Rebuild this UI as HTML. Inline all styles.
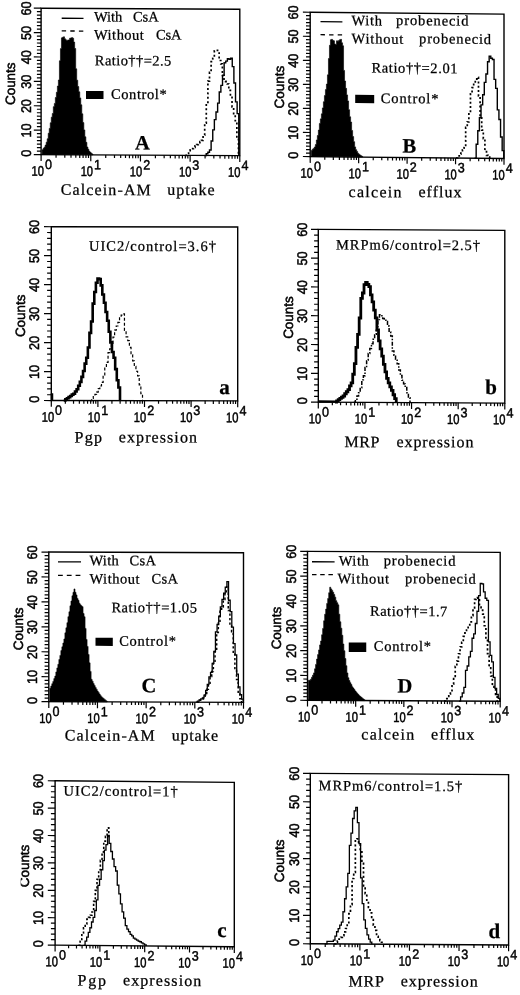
<!DOCTYPE html>
<html><head><meta charset="utf-8"><title>Figure</title>
<style>html,body{margin:0;padding:0;background:#fff}svg{display:block}text{fill:#000}</style>
</head><body>
<svg width="520" height="995" viewBox="0 0 520 995">
<rect width="520" height="995" fill="#fff"/>
<g transform="translate(140.45 81.9) skewY(0.3) translate(-140.45 -81.9)">
<rect x="41.1" y="8.7" width="198.7" height="146.4" fill="none" stroke="#000" stroke-width="1.4"/>
<path d="M33.8 155.1H41.1M36.9 151.61H41.1M36.9 148.13H41.1M36.9 144.64H41.1M36.9 141.16H41.1M36.9 137.67H41.1M36.9 134.19H41.1M33.8 130.7H41.1M36.9 127.21H41.1M36.9 123.73H41.1M36.9 120.24H41.1M36.9 116.76H41.1M36.9 113.27H41.1M36.9 109.79H41.1M33.8 106.3H41.1M36.9 102.81H41.1M36.9 99.33H41.1M36.9 95.84H41.1M36.9 92.36H41.1M36.9 88.87H41.1M36.9 85.39H41.1M33.8 81.9H41.1M36.9 78.41H41.1M36.9 74.93H41.1M36.9 71.44H41.1M36.9 67.96H41.1M36.9 64.47H41.1M36.9 60.99H41.1M33.8 57.5H41.1M36.9 54.01H41.1M36.9 50.53H41.1M36.9 47.04H41.1M36.9 43.56H41.1M36.9 40.07H41.1M36.9 36.59H41.1M33.8 33.1H41.1M36.9 29.61H41.1M36.9 26.13H41.1M36.9 22.64H41.1M36.9 19.16H41.1M36.9 15.67H41.1M36.9 12.19H41.1M33.8 8.7H41.1M41.1 155.1V161.4M56.05 155.1V158.2M64.8 155.1V158.2M71.01 155.1V158.2M75.82 155.1V158.2M79.75 155.1V158.2M83.08 155.1V158.2M85.96 155.1V158.2M88.5 155.1V158.2M90.78 155.1V161.4M105.73 155.1V158.2M114.48 155.1V158.2M120.68 155.1V158.2M125.5 155.1V158.2M129.43 155.1V158.2M132.76 155.1V158.2M135.64 155.1V158.2M138.18 155.1V158.2M140.45 155.1V161.4M155.4 155.1V158.2M164.15 155.1V158.2M170.36 155.1V158.2M175.17 155.1V158.2M179.1 155.1V158.2M182.43 155.1V158.2M185.31 155.1V158.2M187.85 155.1V158.2M190.12 155.1V161.4M205.08 155.1V158.2M213.83 155.1V158.2M220.03 155.1V158.2M224.85 155.1V158.2M228.78 155.1V158.2M232.11 155.1V158.2M234.99 155.1V158.2M237.53 155.1V158.2M239.8 155.1V161.4" stroke="#000" stroke-width="1.2" fill="none"/>
<text transform="translate(30.6 153.9) rotate(-90)" font-family='"Liberation Sans", sans-serif' font-size="14" font-weight="normal" text-anchor="middle" stroke="#000" stroke-width="0.5" textLength="7" lengthAdjust="spacingAndGlyphs">0</text>
<text transform="translate(30.6 131.1) rotate(-90)" font-family='"Liberation Sans", sans-serif' font-size="14" font-weight="normal" text-anchor="middle" stroke="#000" stroke-width="0.5" textLength="14" lengthAdjust="spacingAndGlyphs">10</text>
<text transform="translate(30.6 106.7) rotate(-90)" font-family='"Liberation Sans", sans-serif' font-size="14" font-weight="normal" text-anchor="middle" stroke="#000" stroke-width="0.5" textLength="14" lengthAdjust="spacingAndGlyphs">20</text>
<text transform="translate(30.6 82.3) rotate(-90)" font-family='"Liberation Sans", sans-serif' font-size="14" font-weight="normal" text-anchor="middle" stroke="#000" stroke-width="0.5" textLength="14" lengthAdjust="spacingAndGlyphs">30</text>
<text transform="translate(30.6 57.9) rotate(-90)" font-family='"Liberation Sans", sans-serif' font-size="14" font-weight="normal" text-anchor="middle" stroke="#000" stroke-width="0.5" textLength="14" lengthAdjust="spacingAndGlyphs">40</text>
<text transform="translate(30.6 33.5) rotate(-90)" font-family='"Liberation Sans", sans-serif' font-size="14" font-weight="normal" text-anchor="middle" stroke="#000" stroke-width="0.5" textLength="14" lengthAdjust="spacingAndGlyphs">50</text>
<text transform="translate(30.6 9.1) rotate(-90)" font-family='"Liberation Sans", sans-serif' font-size="14" font-weight="normal" text-anchor="middle" stroke="#000" stroke-width="0.5" textLength="14" lengthAdjust="spacingAndGlyphs">60</text>
<text transform="translate(15.3 84.4) rotate(-90)" font-family='"Liberation Sans", sans-serif' font-size="13.5" font-weight="normal" text-anchor="middle" stroke="#000" stroke-width="0.5" textLength="42.6" lengthAdjust="spacingAndGlyphs">Counts</text>
<text x="43.9" y="176.4" font-family='"Liberation Sans", sans-serif' font-size="14" font-weight="normal" text-anchor="end" textLength="12.4" lengthAdjust="spacingAndGlyphs" stroke="#000" stroke-width="0.5">10</text>
<text x="44.9" y="169.4" font-family='"Liberation Sans", sans-serif' font-size="13.5" font-weight="normal" text-anchor="start" textLength="7" lengthAdjust="spacingAndGlyphs" stroke="#000" stroke-width="0.45">0</text>
<text x="93.06" y="176.4" font-family='"Liberation Sans", sans-serif' font-size="14" font-weight="normal" text-anchor="end" textLength="12.4" lengthAdjust="spacingAndGlyphs" stroke="#000" stroke-width="0.5">10</text>
<text x="94.06" y="169.4" font-family='"Liberation Sans", sans-serif' font-size="13.5" font-weight="normal" text-anchor="start" textLength="7" lengthAdjust="spacingAndGlyphs" stroke="#000" stroke-width="0.45">1</text>
<text x="142.21" y="176.4" font-family='"Liberation Sans", sans-serif' font-size="14" font-weight="normal" text-anchor="end" textLength="12.4" lengthAdjust="spacingAndGlyphs" stroke="#000" stroke-width="0.5">10</text>
<text x="143.21" y="169.4" font-family='"Liberation Sans", sans-serif' font-size="13.5" font-weight="normal" text-anchor="start" textLength="7" lengthAdjust="spacingAndGlyphs" stroke="#000" stroke-width="0.45">2</text>
<text x="191.36" y="176.4" font-family='"Liberation Sans", sans-serif' font-size="14" font-weight="normal" text-anchor="end" textLength="12.4" lengthAdjust="spacingAndGlyphs" stroke="#000" stroke-width="0.5">10</text>
<text x="192.36" y="169.4" font-family='"Liberation Sans", sans-serif' font-size="13.5" font-weight="normal" text-anchor="start" textLength="7" lengthAdjust="spacingAndGlyphs" stroke="#000" stroke-width="0.45">3</text>
<text x="240.52" y="176.4" font-family='"Liberation Sans", sans-serif' font-size="14" font-weight="normal" text-anchor="end" textLength="12.4" lengthAdjust="spacingAndGlyphs" stroke="#000" stroke-width="0.5">10</text>
<text x="241.52" y="169.4" font-family='"Liberation Sans", sans-serif' font-size="13.5" font-weight="normal" text-anchor="start" textLength="7" lengthAdjust="spacingAndGlyphs" stroke="#000" stroke-width="0.45">4</text>
<path d="M61.7 18.66H83.5" stroke="#000" stroke-width="1.3"/>
<path d="M61.7 31.36H83.5" stroke="#000" stroke-width="1.3" stroke-dasharray="4.4 4.2"/>
<text x="94" y="21.67" font-family='"Liberation Serif", serif' font-size="14.5" font-weight="normal" text-anchor="start" textLength="28.3" lengthAdjust="spacing" stroke="#000" stroke-width="0.25">With</text>
<text x="133" y="21.47" font-family='"Liberation Serif", serif' font-size="14.5" font-weight="normal" text-anchor="start" textLength="25.7" lengthAdjust="spacing" stroke="#000" stroke-width="0.25">CsA</text>
<text x="94" y="39.71" font-family='"Liberation Serif", serif' font-size="14.5" font-weight="normal" text-anchor="start" textLength="49.9" lengthAdjust="spacing" stroke="#000" stroke-width="0.25">Without</text>
<text x="156" y="39.45" font-family='"Liberation Serif", serif' font-size="14.5" font-weight="normal" text-anchor="start" textLength="25.5" lengthAdjust="spacing" stroke="#000" stroke-width="0.25">CsA</text>
<text x="94.8" y="65.44" font-family='"Liberation Serif", serif' font-size="14.5" font-weight="normal" text-anchor="start" textLength="76.5" lengthAdjust="spacing" stroke="#000" stroke-width="0.25">Ratio††=2.5</text>
<rect x="86" y="91.24" width="17.5" height="8" fill="#000"/>
<text x="111" y="99.01" font-family='"Liberation Serif", serif' font-size="14.5" font-weight="normal" text-anchor="start" textLength="55.7" lengthAdjust="spacing" stroke="#000" stroke-width="0.25">Control*</text>
<text x="135" y="149.5" font-family='"Liberation Serif", serif' font-size="20.5" font-weight="bold" text-anchor="start" stroke="#000" stroke-width="0.25">A</text>
<text x="60.8" y="195.18" font-family='"Liberation Serif", serif' font-size="16" font-weight="normal" text-anchor="start" textLength="90" lengthAdjust="spacing" stroke="#000" stroke-width="0.25">Calcein-AM</text>
<text x="167.3" y="194.74" font-family='"Liberation Serif", serif' font-size="16" font-weight="normal" text-anchor="start" textLength="47.3" lengthAdjust="spacing" stroke="#000" stroke-width="0.25">uptake</text>
<path d="M41.1 155.1L42.12 155.1L42.12 150.31L43.13 150.31L43.13 148.81L44.15 148.81L44.15 147.65L45.17 147.65L45.17 145.61L46.19 145.61L46.19 142.64L47.2 142.64L47.2 139.26L48.22 139.26L48.22 133.73L49.24 133.73L49.24 128.89L50.26 128.89L50.26 123.24L51.27 123.24L51.27 117.65L52.29 117.65L52.29 113.96L53.31 113.96L53.31 107.12L54.33 107.12L54.33 103.89L55.34 103.89L55.34 97.95L56.36 97.95L56.36 92.7L57.38 92.7L57.38 86.51L58.39 86.51L58.39 80.42L59.41 80.42L59.41 61.19L60.43 61.19L60.43 49.04L61.45 49.04L61.45 38.27L62.46 38.27L62.46 37.66L63.48 37.66L63.48 37.22L64.5 37.22L64.5 39.15L65.52 39.15L65.52 40.19L66.53 40.19L66.53 41.13L67.55 41.13L67.55 40.34L68.57 40.34L68.57 40.3L69.58 40.3L69.58 38.61L70.6 38.61L70.6 38.33L71.62 38.33L71.62 37.98L72.64 37.98L72.64 38.6L73.65 38.6L73.65 42.45L74.67 42.45L74.67 48.84L75.69 48.84L75.69 69.16L76.71 69.16L76.71 80.49L77.72 80.49L77.72 86.84L78.74 86.84L78.74 92.16L79.76 92.16L79.76 98.23L80.78 98.23L80.78 105.11L81.79 105.11L81.79 114.13L82.81 114.13L82.81 122.92L83.83 122.92L83.83 130.2L84.84 130.2L84.84 137.09L85.86 137.09L85.86 142.61L86.88 142.61L86.88 147.3L87.9 147.3L87.9 149.54L88.91 149.54L88.91 151.57L89.93 151.57L89.93 152.58L90.95 152.58L90.95 153.42L91.97 153.42L91.97 154.26L92.98 154.26L92.98 155.1L92.98 155.1L41.1 155.1Z" fill="#000" stroke="#000" stroke-width="0.6"/>
<path d="M185.38 155.1L186.99 155.1L186.99 153.23L188.6 153.23L188.6 151.45L190.21 151.45L190.21 149.71L191.82 149.71L191.82 148.35L193.43 148.35L193.43 147.03L195.03 147.03L195.03 145.55L196.64 145.55L196.64 144.27L198.25 144.27L198.25 142.36L199.86 142.36L199.86 141.21L201.47 141.21L201.47 140.14L203.08 140.14L203.08 134.78L204.69 134.78L204.69 122.85L206.29 122.85L206.29 103.36L207.9 103.36L207.9 80.78L209.51 80.78L209.51 72.04L211.12 72.04L211.12 61.2L212.73 61.2L212.73 55.61L214.34 55.61L214.34 50.42L215.94 50.42L215.94 49.89L217.55 49.89L217.55 52.58L219.16 52.58L219.16 60.1L220.77 60.1L220.77 63.49L222.38 63.49L222.38 75.02L223.99 75.02L223.99 80.59L225.59 80.59L225.59 81.16L227.2 81.16L227.2 83.51L228.81 83.51L228.81 89.93L230.42 89.93L230.42 96.87L232.03 96.87L232.03 106.32L233.64 106.32L233.64 114.37L235.24 114.37L235.24 120.26L236.85 120.26L236.85 137.28L238.46 137.28L238.46 155.1" fill="none" stroke="#000" stroke-width="1.7" stroke-dasharray="2 2.4"/>
<path d="M204.62 155.1L206.24 155.1L206.24 153.45L207.87 153.45L207.87 151.82L209.49 151.82L209.49 149.61L211.12 149.61L211.12 140.68L212.75 140.68L212.75 129.46L214.37 129.46L214.37 119.26L216 119.26L216 111.66L217.63 111.66L217.63 102.73L219.25 102.73L219.25 91.55L220.88 91.55L220.88 84.96L222.51 84.96L222.51 74.92L224.13 74.92L224.13 62.39L225.76 62.39L225.76 60.7L227.38 60.7L227.38 58.31L229.01 58.31L229.01 58.93L230.64 58.93L230.64 57.82L232.26 57.82L232.26 66.09L233.89 66.09L233.89 82.44L235.52 82.44L235.52 101.39L237.14 101.39L237.14 113.11L238.77 113.11L238.77 155.1" fill="none" stroke="#000" stroke-width="1.4" stroke-linejoin="miter"/>
</g>
<g transform="translate(407.1 85.35) skewY(0.55) translate(-407.1 -85.35)">
<rect x="310.2" y="13.2" width="193.8" height="144.3" fill="none" stroke="#000" stroke-width="1.4"/>
<path d="M302.9 157.5H310.2M306 154.06H310.2M306 150.63H310.2M306 147.19H310.2M306 143.76H310.2M306 140.32H310.2M306 136.89H310.2M302.9 133.45H310.2M306 130.01H310.2M306 126.58H310.2M306 123.14H310.2M306 119.71H310.2M306 116.27H310.2M306 112.84H310.2M302.9 109.4H310.2M306 105.96H310.2M306 102.53H310.2M306 99.09H310.2M306 95.66H310.2M306 92.22H310.2M306 88.79H310.2M302.9 85.35H310.2M306 81.91H310.2M306 78.48H310.2M306 75.04H310.2M306 71.61H310.2M306 68.17H310.2M306 64.74H310.2M302.9 61.3H310.2M306 57.86H310.2M306 54.43H310.2M306 50.99H310.2M306 47.56H310.2M306 44.12H310.2M306 40.69H310.2M302.9 37.25H310.2M306 33.81H310.2M306 30.38H310.2M306 26.94H310.2M306 23.51H310.2M306 20.07H310.2M306 16.64H310.2M302.9 13.2H310.2M310.2 157.5V163.8M324.78 157.5V160.6M333.32 157.5V160.6M339.37 157.5V160.6M344.07 157.5V160.6M347.9 157.5V160.6M351.15 157.5V160.6M353.95 157.5V160.6M356.43 157.5V160.6M358.65 157.5V163.8M373.23 157.5V160.6M381.77 157.5V160.6M387.82 157.5V160.6M392.52 157.5V160.6M396.35 157.5V160.6M399.6 157.5V160.6M402.4 157.5V160.6M404.88 157.5V160.6M407.1 157.5V163.8M421.68 157.5V160.6M430.22 157.5V160.6M436.27 157.5V160.6M440.97 157.5V160.6M444.8 157.5V160.6M448.05 157.5V160.6M450.85 157.5V160.6M453.33 157.5V160.6M455.55 157.5V163.8M470.13 157.5V160.6M478.67 157.5V160.6M484.72 157.5V160.6M489.42 157.5V160.6M493.25 157.5V160.6M496.5 157.5V160.6M499.3 157.5V160.6M501.78 157.5V160.6M504 157.5V163.8" stroke="#000" stroke-width="1.2" fill="none"/>
<text transform="translate(298.3 156.3) rotate(-90)" font-family='"Liberation Sans", sans-serif' font-size="14" font-weight="normal" text-anchor="middle" stroke="#000" stroke-width="0.5" textLength="7" lengthAdjust="spacingAndGlyphs">0</text>
<text transform="translate(298.3 133.85) rotate(-90)" font-family='"Liberation Sans", sans-serif' font-size="14" font-weight="normal" text-anchor="middle" stroke="#000" stroke-width="0.5" textLength="14" lengthAdjust="spacingAndGlyphs">10</text>
<text transform="translate(298.3 109.8) rotate(-90)" font-family='"Liberation Sans", sans-serif' font-size="14" font-weight="normal" text-anchor="middle" stroke="#000" stroke-width="0.5" textLength="14" lengthAdjust="spacingAndGlyphs">20</text>
<text transform="translate(298.3 85.75) rotate(-90)" font-family='"Liberation Sans", sans-serif' font-size="14" font-weight="normal" text-anchor="middle" stroke="#000" stroke-width="0.5" textLength="14" lengthAdjust="spacingAndGlyphs">30</text>
<text transform="translate(298.3 61.7) rotate(-90)" font-family='"Liberation Sans", sans-serif' font-size="14" font-weight="normal" text-anchor="middle" stroke="#000" stroke-width="0.5" textLength="14" lengthAdjust="spacingAndGlyphs">40</text>
<text transform="translate(298.3 37.65) rotate(-90)" font-family='"Liberation Sans", sans-serif' font-size="14" font-weight="normal" text-anchor="middle" stroke="#000" stroke-width="0.5" textLength="14" lengthAdjust="spacingAndGlyphs">50</text>
<text transform="translate(298.3 13.6) rotate(-90)" font-family='"Liberation Sans", sans-serif' font-size="14" font-weight="normal" text-anchor="middle" stroke="#000" stroke-width="0.5" textLength="14" lengthAdjust="spacingAndGlyphs">60</text>
<text transform="translate(284.1 88.3) rotate(-90)" font-family='"Liberation Sans", sans-serif' font-size="13.5" font-weight="normal" text-anchor="middle" stroke="#000" stroke-width="0.5" textLength="42.6" lengthAdjust="spacingAndGlyphs">Counts</text>
<text x="313" y="178.8" font-family='"Liberation Sans", sans-serif' font-size="14" font-weight="normal" text-anchor="end" textLength="12.4" lengthAdjust="spacingAndGlyphs" stroke="#000" stroke-width="0.5">10</text>
<text x="314" y="171.8" font-family='"Liberation Sans", sans-serif' font-size="13.5" font-weight="normal" text-anchor="start" textLength="7" lengthAdjust="spacingAndGlyphs" stroke="#000" stroke-width="0.45">0</text>
<text x="360.93" y="178.8" font-family='"Liberation Sans", sans-serif' font-size="14" font-weight="normal" text-anchor="end" textLength="12.4" lengthAdjust="spacingAndGlyphs" stroke="#000" stroke-width="0.5">10</text>
<text x="361.93" y="171.8" font-family='"Liberation Sans", sans-serif' font-size="13.5" font-weight="normal" text-anchor="start" textLength="7" lengthAdjust="spacingAndGlyphs" stroke="#000" stroke-width="0.45">1</text>
<text x="408.86" y="178.8" font-family='"Liberation Sans", sans-serif' font-size="14" font-weight="normal" text-anchor="end" textLength="12.4" lengthAdjust="spacingAndGlyphs" stroke="#000" stroke-width="0.5">10</text>
<text x="409.86" y="171.8" font-family='"Liberation Sans", sans-serif' font-size="13.5" font-weight="normal" text-anchor="start" textLength="7" lengthAdjust="spacingAndGlyphs" stroke="#000" stroke-width="0.45">2</text>
<text x="456.79" y="178.8" font-family='"Liberation Sans", sans-serif' font-size="14" font-weight="normal" text-anchor="end" textLength="12.4" lengthAdjust="spacingAndGlyphs" stroke="#000" stroke-width="0.5">10</text>
<text x="457.79" y="171.8" font-family='"Liberation Sans", sans-serif' font-size="13.5" font-weight="normal" text-anchor="start" textLength="7" lengthAdjust="spacingAndGlyphs" stroke="#000" stroke-width="0.45">3</text>
<text x="504.72" y="178.8" font-family='"Liberation Sans", sans-serif' font-size="14" font-weight="normal" text-anchor="end" textLength="12.4" lengthAdjust="spacingAndGlyphs" stroke="#000" stroke-width="0.5">10</text>
<text x="505.72" y="171.8" font-family='"Liberation Sans", sans-serif' font-size="13.5" font-weight="normal" text-anchor="start" textLength="7" lengthAdjust="spacingAndGlyphs" stroke="#000" stroke-width="0.45">4</text>
<path d="M320.5 22.43H342.4" stroke="#000" stroke-width="1.3"/>
<path d="M320.5 35.53H342.4" stroke="#000" stroke-width="1.3" stroke-dasharray="4.4 4.2"/>
<text x="351.5" y="25.69" font-family='"Liberation Serif", serif' font-size="14.5" font-weight="normal" text-anchor="start" textLength="30.5" lengthAdjust="spacing" stroke="#000" stroke-width="0.25">With</text>
<text x="396.1" y="25.06" font-family='"Liberation Serif", serif' font-size="14.5" font-weight="normal" text-anchor="start" textLength="72.4" lengthAdjust="spacing" stroke="#000" stroke-width="0.25">probenecid</text>
<text x="351.5" y="43.88" font-family='"Liberation Serif", serif' font-size="14.5" font-weight="normal" text-anchor="start" textLength="51.9" lengthAdjust="spacing" stroke="#000" stroke-width="0.25">Without</text>
<text x="419.1" y="43.14" font-family='"Liberation Serif", serif' font-size="14.5" font-weight="normal" text-anchor="start" textLength="72" lengthAdjust="spacing" stroke="#000" stroke-width="0.25">probenecid</text>
<text x="371.6" y="72.73" font-family='"Liberation Serif", serif' font-size="14.5" font-weight="normal" text-anchor="start" textLength="85.9" lengthAdjust="spacing" stroke="#000" stroke-width="0.25">Ratio††=2.01</text>
<rect x="355.2" y="95.21" width="19" height="8.4" fill="#000"/>
<text x="380.8" y="103.18" font-family='"Liberation Serif", serif' font-size="14.5" font-weight="normal" text-anchor="start" textLength="57.7" lengthAdjust="spacing" stroke="#000" stroke-width="0.25">Control*</text>
<text x="402.5" y="152.49" font-family='"Liberation Serif", serif' font-size="20.5" font-weight="bold" text-anchor="start" stroke="#000" stroke-width="0.25">B</text>
<text x="348.6" y="197.51" font-family='"Liberation Serif", serif' font-size="16" font-weight="normal" text-anchor="start" textLength="52.9" lengthAdjust="spacing" stroke="#000" stroke-width="0.25">calcein</text>
<text x="418.4" y="196.88" font-family='"Liberation Serif", serif' font-size="16" font-weight="normal" text-anchor="start" textLength="43.2" lengthAdjust="spacing" stroke="#000" stroke-width="0.25">efflux</text>
<path d="M310.3 157.5L311.31 157.5L311.31 151.31L312.32 151.31L312.32 150.07L313.32 150.07L313.32 149.33L314.33 149.33L314.33 147.94L315.34 147.94L315.34 145.43L316.35 145.43L316.35 140.83L317.35 140.83L317.35 136.39L318.36 136.39L318.36 130.94L319.37 130.94L319.37 124.3L320.38 124.3L320.38 119.7L321.38 119.7L321.38 114.68L322.39 114.68L322.39 108.71L323.4 108.71L323.4 102.53L324.41 102.53L324.41 96.36L325.42 96.36L325.42 90.36L326.42 90.36L326.42 84.86L327.43 84.86L327.43 75.61L328.44 75.61L328.44 59.28L329.45 59.28L329.45 46.06L330.45 46.06L330.45 40.44L331.46 40.44L331.46 40.05L332.47 40.05L332.47 41.05L333.48 41.05L333.48 41.49L334.48 41.49L334.48 44.64L335.49 44.64L335.49 45.55L336.5 45.55L336.5 41.45L337.51 41.45L337.51 41.84L338.52 41.84L338.52 41.11L339.52 41.11L339.52 40.28L340.53 40.28L340.53 39.98L341.54 39.98L341.54 43.42L342.55 43.42L342.55 46.4L343.55 46.4L343.55 71.02L344.56 71.02L344.56 81.59L345.57 81.59L345.57 88.95L346.58 88.95L346.58 95.47L347.58 95.47L347.58 101.47L348.59 101.47L348.59 110.26L349.6 110.26L349.6 117.36L350.61 117.36L350.61 122.6L351.62 122.6L351.62 130.98L352.62 130.98L352.62 137.09L353.63 137.09L353.63 142.19L354.64 142.19L354.64 147.38L355.65 147.38L355.65 150.12L356.65 150.12L356.65 151.92L357.66 151.92L357.66 153.77L358.67 153.77L358.67 154.73L359.68 154.73L359.68 155.42L360.68 155.42L360.68 156.12L361.69 156.12L361.69 156.81L362.7 156.81L362.7 157.5L362.7 157.5L310.3 157.5Z" fill="#000" stroke="#000" stroke-width="0.6"/>
<path d="M456.05 157.5L457.65 157.5L457.65 155.43L459.26 155.43L459.26 153.59L460.86 153.59L460.86 151.39L462.46 151.39L462.46 149.28L464.07 149.28L464.07 146.12L465.67 146.12L465.67 126.89L467.27 126.89L467.27 121.4L468.87 121.4L468.87 111.76L470.48 111.76L470.48 93.37L472.08 93.37L472.08 86.95L473.68 86.95L473.68 82.24L475.29 82.24L475.29 78.45L476.89 78.45L476.89 76.57L478.49 76.57L478.49 95.3L480.1 95.3L480.1 117.12L481.7 117.12L481.7 129.49L483.3 129.49L483.3 137.82L484.91 137.82L484.91 148.52L486.51 148.52L486.51 154.62L488.11 154.62L488.11 156.25L489.71 156.25L489.71 157.5" fill="none" stroke="#000" stroke-width="1.7" stroke-dasharray="2 2.3"/>
<path d="M474.53 157.5L476.16 157.5L476.16 143.56L477.78 143.56L477.78 130.06L479.41 130.06L479.41 117.07L481.03 117.07L481.03 104.19L482.66 104.19L482.66 93.99L484.29 93.99L484.29 81.66L485.91 81.66L485.91 73.2L487.54 73.2L487.54 61L489.17 61L489.17 55.49L490.79 55.49L490.79 57.4L492.42 57.4L492.42 58.67L494.04 58.67L494.04 78.57L495.67 78.57L495.67 87.52L497.3 87.52L497.3 108.95L498.92 108.95L498.92 118.62L500.55 118.62L500.55 136.09L502.17 136.09L502.17 149.74L503.8 149.74L503.8 157.5" fill="none" stroke="#000" stroke-width="1.4" stroke-linejoin="miter"/>
</g>
<g transform="translate(144.5 313.8) skewY(0.1) translate(-144.5 -313.8)">
<rect x="51.3" y="226.9" width="186.4" height="173.8" fill="none" stroke="#000" stroke-width="1.4"/>
<path d="M44 400.7H51.3M47.1 394.91H51.3M47.1 389.11H51.3M47.1 383.32H51.3M47.1 377.53H51.3M44 371.73H51.3M47.1 365.94H51.3M47.1 360.15H51.3M47.1 354.35H51.3M47.1 348.56H51.3M44 342.77H51.3M47.1 336.97H51.3M47.1 331.18H51.3M47.1 325.39H51.3M47.1 319.59H51.3M44 313.8H51.3M47.1 308.01H51.3M47.1 302.21H51.3M47.1 296.42H51.3M47.1 290.63H51.3M44 284.83H51.3M47.1 279.04H51.3M47.1 273.25H51.3M47.1 267.45H51.3M47.1 261.66H51.3M44 255.87H51.3M47.1 250.07H51.3M47.1 244.28H51.3M47.1 238.49H51.3M47.1 232.69H51.3M44 226.9H51.3M51.3 400.7V407M65.33 400.7V403.8M73.53 400.7V403.8M79.36 400.7V403.8M83.87 400.7V403.8M87.56 400.7V403.8M90.68 400.7V403.8M93.38 400.7V403.8M95.77 400.7V403.8M97.9 400.7V407M111.93 400.7V403.8M120.13 400.7V403.8M125.96 400.7V403.8M130.47 400.7V403.8M134.16 400.7V403.8M137.28 400.7V403.8M139.98 400.7V403.8M142.37 400.7V403.8M144.5 400.7V407M158.53 400.7V403.8M166.73 400.7V403.8M172.56 400.7V403.8M177.07 400.7V403.8M180.76 400.7V403.8M183.88 400.7V403.8M186.58 400.7V403.8M188.97 400.7V403.8M191.1 400.7V407M205.13 400.7V403.8M213.33 400.7V403.8M219.16 400.7V403.8M223.67 400.7V403.8M227.36 400.7V403.8M230.48 400.7V403.8M233.18 400.7V403.8M235.57 400.7V403.8M237.7 400.7V407" stroke="#000" stroke-width="1.2" fill="none"/>
<text transform="translate(39.4 399.5) rotate(-90)" font-family='"Liberation Sans", sans-serif' font-size="14" font-weight="normal" text-anchor="middle" stroke="#000" stroke-width="0.5" textLength="7" lengthAdjust="spacingAndGlyphs">0</text>
<text transform="translate(39.4 372.13) rotate(-90)" font-family='"Liberation Sans", sans-serif' font-size="14" font-weight="normal" text-anchor="middle" stroke="#000" stroke-width="0.5" textLength="14" lengthAdjust="spacingAndGlyphs">10</text>
<text transform="translate(39.4 343.17) rotate(-90)" font-family='"Liberation Sans", sans-serif' font-size="14" font-weight="normal" text-anchor="middle" stroke="#000" stroke-width="0.5" textLength="14" lengthAdjust="spacingAndGlyphs">20</text>
<text transform="translate(39.4 314.2) rotate(-90)" font-family='"Liberation Sans", sans-serif' font-size="14" font-weight="normal" text-anchor="middle" stroke="#000" stroke-width="0.5" textLength="14" lengthAdjust="spacingAndGlyphs">30</text>
<text transform="translate(39.4 285.23) rotate(-90)" font-family='"Liberation Sans", sans-serif' font-size="14" font-weight="normal" text-anchor="middle" stroke="#000" stroke-width="0.5" textLength="14" lengthAdjust="spacingAndGlyphs">40</text>
<text transform="translate(39.4 256.27) rotate(-90)" font-family='"Liberation Sans", sans-serif' font-size="14" font-weight="normal" text-anchor="middle" stroke="#000" stroke-width="0.5" textLength="14" lengthAdjust="spacingAndGlyphs">50</text>
<text transform="translate(39.4 227.3) rotate(-90)" font-family='"Liberation Sans", sans-serif' font-size="14" font-weight="normal" text-anchor="middle" stroke="#000" stroke-width="0.5" textLength="14" lengthAdjust="spacingAndGlyphs">60</text>
<text transform="translate(24.6 316) rotate(-90)" font-family='"Liberation Sans", sans-serif' font-size="13.5" font-weight="normal" text-anchor="middle" stroke="#000" stroke-width="0.5" textLength="42.6" lengthAdjust="spacingAndGlyphs">Counts</text>
<text x="54.1" y="422" font-family='"Liberation Sans", sans-serif' font-size="14" font-weight="normal" text-anchor="end" textLength="12.4" lengthAdjust="spacingAndGlyphs" stroke="#000" stroke-width="0.5">10</text>
<text x="55.1" y="415" font-family='"Liberation Sans", sans-serif' font-size="13.5" font-weight="normal" text-anchor="start" textLength="7" lengthAdjust="spacingAndGlyphs" stroke="#000" stroke-width="0.45">0</text>
<text x="100.18" y="422" font-family='"Liberation Sans", sans-serif' font-size="14" font-weight="normal" text-anchor="end" textLength="12.4" lengthAdjust="spacingAndGlyphs" stroke="#000" stroke-width="0.5">10</text>
<text x="101.18" y="415" font-family='"Liberation Sans", sans-serif' font-size="13.5" font-weight="normal" text-anchor="start" textLength="7" lengthAdjust="spacingAndGlyphs" stroke="#000" stroke-width="0.45">1</text>
<text x="146.26" y="422" font-family='"Liberation Sans", sans-serif' font-size="14" font-weight="normal" text-anchor="end" textLength="12.4" lengthAdjust="spacingAndGlyphs" stroke="#000" stroke-width="0.5">10</text>
<text x="147.26" y="415" font-family='"Liberation Sans", sans-serif' font-size="13.5" font-weight="normal" text-anchor="start" textLength="7" lengthAdjust="spacingAndGlyphs" stroke="#000" stroke-width="0.45">2</text>
<text x="192.34" y="422" font-family='"Liberation Sans", sans-serif' font-size="14" font-weight="normal" text-anchor="end" textLength="12.4" lengthAdjust="spacingAndGlyphs" stroke="#000" stroke-width="0.5">10</text>
<text x="193.34" y="415" font-family='"Liberation Sans", sans-serif' font-size="13.5" font-weight="normal" text-anchor="start" textLength="7" lengthAdjust="spacingAndGlyphs" stroke="#000" stroke-width="0.45">3</text>
<text x="238.42" y="422" font-family='"Liberation Sans", sans-serif' font-size="14" font-weight="normal" text-anchor="end" textLength="12.4" lengthAdjust="spacingAndGlyphs" stroke="#000" stroke-width="0.5">10</text>
<text x="239.42" y="415" font-family='"Liberation Sans", sans-serif' font-size="13.5" font-weight="normal" text-anchor="start" textLength="7" lengthAdjust="spacingAndGlyphs" stroke="#000" stroke-width="0.45">4</text>
<text x="88.9" y="250.89" font-family='"Liberation Serif", serif' font-size="14.5" font-weight="normal" text-anchor="start" textLength="127.1" lengthAdjust="spacing" stroke="#000" stroke-width="0.25">UIC2/control=3.6†</text>
<text x="219.3" y="393.86" font-family='"Liberation Serif", serif' font-size="21" font-weight="bold" text-anchor="start" stroke="#000" stroke-width="0.25">a</text>
<text x="74.4" y="442.5" font-family='"Liberation Serif", serif' font-size="16" font-weight="normal" text-anchor="start" textLength="27.6" lengthAdjust="spacing" stroke="#000" stroke-width="0.25">Pgp</text>
<text x="118.8" y="442.38" font-family='"Liberation Serif", serif' font-size="16" font-weight="normal" text-anchor="start" textLength="78.2" lengthAdjust="spacing" stroke="#000" stroke-width="0.25">expression</text>
<path d="M52 393.5V400.7" stroke="#000" stroke-width="2.5"/>
<path d="M63.75 400.7L65.36 400.7L65.36 399.55L66.96 399.55L66.96 398.41L68.57 398.41L68.57 397.22L70.18 397.22L70.18 396.08L71.79 396.08L71.79 394.7L73.39 394.7L73.39 393.89L75 393.89L75 391.62L76.61 391.62L76.61 389.36L78.21 389.36L78.21 385.9L79.82 385.9L79.82 381.98L81.43 381.98L81.43 376.94L83.04 376.94L83.04 371.07L84.64 371.07L84.64 363.74L86.25 363.74L86.25 357.83L87.86 357.83L87.86 347.62L89.46 347.62L89.46 332.94L91.07 332.94L91.07 321.58L92.68 321.58L92.68 303.68L94.29 303.68L94.29 292.11L95.89 292.11L95.89 282.9L97.5 282.9L97.5 278.51L99.11 278.51L99.11 279.16L100.71 279.16L100.71 285.49L102.32 285.49L102.32 294.65L103.93 294.65L103.93 302.81L105.54 302.81L105.54 312.03L107.14 312.03L107.14 320.82L108.75 320.82L108.75 331.82L110.36 331.82L110.36 342.39L111.96 342.39L111.96 352.11L113.57 352.11L113.57 357.85L115.18 357.85L115.18 369.21L116.79 369.21L116.79 380.37L118.39 380.37L118.39 387.53L120 387.53L120 400.7" fill="none" stroke="#000" stroke-width="2.6" stroke-linejoin="miter"/>
<path d="M90 400.7L91.64 400.7L91.64 398.57L93.28 398.57L93.28 396.58L94.92 396.58L94.92 394.42L96.56 394.42L96.56 392.21L98.2 392.21L98.2 388.65L99.84 388.65L99.84 386.06L101.48 386.06L101.48 382.45L103.12 382.45L103.12 375.73L104.77 375.73L104.77 367.46L106.41 367.46L106.41 362.39L108.05 362.39L108.05 352.71L109.69 352.71L109.69 348.84L111.33 348.84L111.33 343.37L112.97 343.37L112.97 337.19L114.61 337.19L114.61 330.23L116.25 330.23L116.25 326.03L117.89 326.03L117.89 322.35L119.53 322.35L119.53 317.78L121.17 317.78L121.17 315.13L122.81 315.13L122.81 313.98L124.45 313.98L124.45 330.39L126.09 330.39L126.09 336.99L127.73 336.99L127.73 340.7L129.38 340.7L129.38 347.37L131.02 347.37L131.02 354.92L132.66 354.92L132.66 360.88L134.3 360.88L134.3 366.33L135.94 366.33L135.94 371.24L137.58 371.24L137.58 375.81L139.22 375.81L139.22 384.86L140.86 384.86L140.86 393.62L142.5 393.62L142.5 400.7" fill="none" stroke="#000" stroke-width="1.2" stroke-dasharray="3 2"/>
</g>
<g transform="translate(411.55 316.25) skewY(0.3) translate(-411.55 -316.25)">
<rect x="318.3" y="229.9" width="186.5" height="172.7" fill="none" stroke="#000" stroke-width="1.4"/>
<path d="M311 402.6H318.3M314.1 396.84H318.3M314.1 391.09H318.3M314.1 385.33H318.3M314.1 379.57H318.3M311 373.82H318.3M314.1 368.06H318.3M314.1 362.3H318.3M314.1 356.55H318.3M314.1 350.79H318.3M311 345.03H318.3M314.1 339.28H318.3M314.1 333.52H318.3M314.1 327.76H318.3M314.1 322.01H318.3M311 316.25H318.3M314.1 310.49H318.3M314.1 304.74H318.3M314.1 298.98H318.3M314.1 293.22H318.3M311 287.47H318.3M314.1 281.71H318.3M314.1 275.95H318.3M314.1 270.2H318.3M314.1 264.44H318.3M311 258.68H318.3M314.1 252.93H318.3M314.1 247.17H318.3M314.1 241.41H318.3M314.1 235.66H318.3M311 229.9H318.3M318.3 402.6V408.9M332.34 402.6V405.7M340.55 402.6V405.7M346.37 402.6V405.7M350.89 402.6V405.7M354.58 402.6V405.7M357.7 402.6V405.7M360.41 402.6V405.7M362.79 402.6V405.7M364.93 402.6V408.9M378.96 402.6V405.7M387.17 402.6V405.7M393 402.6V405.7M397.51 402.6V405.7M401.21 402.6V405.7M404.33 402.6V405.7M407.03 402.6V405.7M409.42 402.6V405.7M411.55 402.6V408.9M425.59 402.6V405.7M433.8 402.6V405.7M439.62 402.6V405.7M444.14 402.6V405.7M447.83 402.6V405.7M450.95 402.6V405.7M453.66 402.6V405.7M456.04 402.6V405.7M458.18 402.6V408.9M472.21 402.6V405.7M480.42 402.6V405.7M486.25 402.6V405.7M490.76 402.6V405.7M494.46 402.6V405.7M497.58 402.6V405.7M500.28 402.6V405.7M502.67 402.6V405.7M504.8 402.6V408.9" stroke="#000" stroke-width="1.2" fill="none"/>
<text transform="translate(306.9 401.4) rotate(-90)" font-family='"Liberation Sans", sans-serif' font-size="14" font-weight="normal" text-anchor="middle" stroke="#000" stroke-width="0.5" textLength="7" lengthAdjust="spacingAndGlyphs">0</text>
<text transform="translate(306.9 374.22) rotate(-90)" font-family='"Liberation Sans", sans-serif' font-size="14" font-weight="normal" text-anchor="middle" stroke="#000" stroke-width="0.5" textLength="14" lengthAdjust="spacingAndGlyphs">10</text>
<text transform="translate(306.9 345.43) rotate(-90)" font-family='"Liberation Sans", sans-serif' font-size="14" font-weight="normal" text-anchor="middle" stroke="#000" stroke-width="0.5" textLength="14" lengthAdjust="spacingAndGlyphs">20</text>
<text transform="translate(306.9 316.65) rotate(-90)" font-family='"Liberation Sans", sans-serif' font-size="14" font-weight="normal" text-anchor="middle" stroke="#000" stroke-width="0.5" textLength="14" lengthAdjust="spacingAndGlyphs">30</text>
<text transform="translate(306.9 287.87) rotate(-90)" font-family='"Liberation Sans", sans-serif' font-size="14" font-weight="normal" text-anchor="middle" stroke="#000" stroke-width="0.5" textLength="14" lengthAdjust="spacingAndGlyphs">40</text>
<text transform="translate(306.9 259.08) rotate(-90)" font-family='"Liberation Sans", sans-serif' font-size="14" font-weight="normal" text-anchor="middle" stroke="#000" stroke-width="0.5" textLength="14" lengthAdjust="spacingAndGlyphs">50</text>
<text transform="translate(306.9 230.3) rotate(-90)" font-family='"Liberation Sans", sans-serif' font-size="14" font-weight="normal" text-anchor="middle" stroke="#000" stroke-width="0.5" textLength="14" lengthAdjust="spacingAndGlyphs">60</text>
<text transform="translate(292.5 318.2) rotate(-90)" font-family='"Liberation Sans", sans-serif' font-size="13.5" font-weight="normal" text-anchor="middle" stroke="#000" stroke-width="0.5" textLength="42.6" lengthAdjust="spacingAndGlyphs">Counts</text>
<text x="321.1" y="423.9" font-family='"Liberation Sans", sans-serif' font-size="14" font-weight="normal" text-anchor="end" textLength="12.4" lengthAdjust="spacingAndGlyphs" stroke="#000" stroke-width="0.5">10</text>
<text x="322.1" y="416.9" font-family='"Liberation Sans", sans-serif' font-size="13.5" font-weight="normal" text-anchor="start" textLength="7" lengthAdjust="spacingAndGlyphs" stroke="#000" stroke-width="0.45">0</text>
<text x="367.21" y="423.9" font-family='"Liberation Sans", sans-serif' font-size="14" font-weight="normal" text-anchor="end" textLength="12.4" lengthAdjust="spacingAndGlyphs" stroke="#000" stroke-width="0.5">10</text>
<text x="368.21" y="416.9" font-family='"Liberation Sans", sans-serif' font-size="13.5" font-weight="normal" text-anchor="start" textLength="7" lengthAdjust="spacingAndGlyphs" stroke="#000" stroke-width="0.45">1</text>
<text x="413.31" y="423.9" font-family='"Liberation Sans", sans-serif' font-size="14" font-weight="normal" text-anchor="end" textLength="12.4" lengthAdjust="spacingAndGlyphs" stroke="#000" stroke-width="0.5">10</text>
<text x="414.31" y="416.9" font-family='"Liberation Sans", sans-serif' font-size="13.5" font-weight="normal" text-anchor="start" textLength="7" lengthAdjust="spacingAndGlyphs" stroke="#000" stroke-width="0.45">2</text>
<text x="459.42" y="423.9" font-family='"Liberation Sans", sans-serif' font-size="14" font-weight="normal" text-anchor="end" textLength="12.4" lengthAdjust="spacingAndGlyphs" stroke="#000" stroke-width="0.5">10</text>
<text x="460.42" y="416.9" font-family='"Liberation Sans", sans-serif' font-size="13.5" font-weight="normal" text-anchor="start" textLength="7" lengthAdjust="spacingAndGlyphs" stroke="#000" stroke-width="0.45">3</text>
<text x="505.52" y="423.9" font-family='"Liberation Sans", sans-serif' font-size="14" font-weight="normal" text-anchor="end" textLength="12.4" lengthAdjust="spacingAndGlyphs" stroke="#000" stroke-width="0.5">10</text>
<text x="506.52" y="416.9" font-family='"Liberation Sans", sans-serif' font-size="13.5" font-weight="normal" text-anchor="start" textLength="7" lengthAdjust="spacingAndGlyphs" stroke="#000" stroke-width="0.45">4</text>
<text x="336" y="249.82" font-family='"Liberation Serif", serif' font-size="14.5" font-weight="normal" text-anchor="start" textLength="144" lengthAdjust="spacing" stroke="#000" stroke-width="0.25">MRPm6/control=2.5†</text>
<text x="485.3" y="393.58" font-family='"Liberation Serif", serif' font-size="21" font-weight="bold" text-anchor="start" stroke="#000" stroke-width="0.25">b</text>
<text x="344.4" y="447.46" font-family='"Liberation Serif", serif' font-size="16" font-weight="normal" text-anchor="start" textLength="35.1" lengthAdjust="spacing" stroke="#000" stroke-width="0.25">MRP</text>
<text x="396.4" y="447.08" font-family='"Liberation Serif", serif' font-size="16" font-weight="normal" text-anchor="start" textLength="77" lengthAdjust="spacing" stroke="#000" stroke-width="0.25">expression</text>
<path d="M318.3 402H336" stroke="#000" stroke-width="2.4"/>
<path d="M335 402.6L336.61 402.6L336.61 401.31L338.22 401.31L338.22 400.03L339.84 400.03L339.84 398.82L341.45 398.82L341.45 397.61L343.06 397.61L343.06 396.32L344.67 396.32L344.67 394.06L346.28 394.06L346.28 392.1L347.89 392.1L347.89 389.91L349.51 389.91L349.51 386.26L351.12 386.26L351.12 383.21L352.73 383.21L352.73 374.55L354.34 374.55L354.34 363.94L355.95 363.94L355.95 347.58L357.57 347.58L357.57 334.74L359.18 334.74L359.18 318.28L360.79 318.28L360.79 298.67L362.4 298.67L362.4 293.25L364.01 293.25L364.01 284.93L365.62 284.93L365.62 282.66L367.24 282.66L367.24 284.71L368.85 284.71L368.85 286.89L370.46 286.89L370.46 295.01L372.07 295.01L372.07 301.98L373.68 301.98L373.68 310.34L375.3 310.34L375.3 318.16L376.91 318.16L376.91 330.13L378.52 330.13L378.52 341.07L380.13 341.07L380.13 349.13L381.74 349.13L381.74 356.31L383.36 356.31L383.36 364.5L384.97 364.5L384.97 371.98L386.58 371.98L386.58 378.59L388.19 378.59L388.19 382.89L389.8 382.89L389.8 386.99L391.41 386.99L391.41 390.37L393.03 390.37L393.03 394.84L394.64 394.84L394.64 398.66L396.25 398.66L396.25 402.6" fill="none" stroke="#000" stroke-width="2.8" stroke-linejoin="miter"/>
<path d="M353.75 402.6L355.36 402.6L355.36 399.47L356.96 399.47L356.96 396.38L358.57 396.38L358.57 392.92L360.18 392.92L360.18 387.97L361.79 387.97L361.79 380.12L363.39 380.12L363.39 375.89L365 375.89L365 367.78L366.61 367.78L366.61 360.31L368.21 360.31L368.21 353.63L369.82 353.63L369.82 348.73L371.43 348.73L371.43 343.87L373.04 343.87L373.04 339.4L374.64 339.4L374.64 334.35L376.25 334.35L376.25 330.51L377.86 330.51L377.86 319.62L379.46 319.62L379.46 314.98L381.07 314.98L381.07 315.96L382.68 315.96L382.68 318.75L384.29 318.75L384.29 319.18L385.89 319.18L385.89 321.74L387.5 321.74L387.5 326.12L389.11 326.12L389.11 332.11L390.71 332.11L390.71 336.04L392.32 336.04L392.32 351.09L393.93 351.09L393.93 355.26L395.54 355.26L395.54 359.39L397.14 359.39L397.14 363.92L398.75 363.92L398.75 369.95L400.36 369.95L400.36 375.62L401.96 375.62L401.96 380.41L403.57 380.41L403.57 383.91L405.18 383.91L405.18 387.62L406.79 387.62L406.79 392.88L408.39 392.88L408.39 397.77L410 397.77L410 402.6" fill="none" stroke="#000" stroke-width="1.5" stroke-dasharray="4 1.5 1.5 1.5"/>
</g>
<g transform="translate(146.15 627.2) skewY(0.2) translate(-146.15 -627.2)">
<rect x="48.8" y="552.4" width="194.7" height="149.6" fill="none" stroke="#000" stroke-width="1.4"/>
<path d="M41.5 702H48.8M44.6 698.44H48.8M44.6 694.88H48.8M44.6 691.31H48.8M44.6 687.75H48.8M44.6 684.19H48.8M44.6 680.63H48.8M41.5 677.07H48.8M44.6 673.5H48.8M44.6 669.94H48.8M44.6 666.38H48.8M44.6 662.82H48.8M44.6 659.26H48.8M44.6 655.7H48.8M41.5 652.13H48.8M44.6 648.57H48.8M44.6 645.01H48.8M44.6 641.45H48.8M44.6 637.89H48.8M44.6 634.32H48.8M44.6 630.76H48.8M41.5 627.2H48.8M44.6 623.64H48.8M44.6 620.08H48.8M44.6 616.51H48.8M44.6 612.95H48.8M44.6 609.39H48.8M44.6 605.83H48.8M41.5 602.27H48.8M44.6 598.7H48.8M44.6 595.14H48.8M44.6 591.58H48.8M44.6 588.02H48.8M44.6 584.46H48.8M44.6 580.9H48.8M41.5 577.33H48.8M44.6 573.77H48.8M44.6 570.21H48.8M44.6 566.65H48.8M44.6 563.09H48.8M44.6 559.52H48.8M44.6 555.96H48.8M41.5 552.4H48.8M48.8 702V708.3M63.45 702V705.1M72.02 702V705.1M78.11 702V705.1M82.82 702V705.1M86.68 702V705.1M89.94 702V705.1M92.76 702V705.1M95.25 702V705.1M97.47 702V708.3M112.13 702V705.1M120.7 702V705.1M126.78 702V705.1M131.5 702V705.1M135.35 702V705.1M138.61 702V705.1M141.43 702V705.1M143.92 702V705.1M146.15 702V708.3M160.8 702V705.1M169.37 702V705.1M175.46 702V705.1M180.17 702V705.1M184.03 702V705.1M187.29 702V705.1M190.11 702V705.1M192.6 702V705.1M194.82 702V708.3M209.48 702V705.1M218.05 702V705.1M224.13 702V705.1M228.85 702V705.1M232.7 702V705.1M235.96 702V705.1M238.78 702V705.1M241.27 702V705.1M243.5 702V708.3" stroke="#000" stroke-width="1.2" fill="none"/>
<text transform="translate(37.4 700.8) rotate(-90)" font-family='"Liberation Sans", sans-serif' font-size="14" font-weight="normal" text-anchor="middle" stroke="#000" stroke-width="0.5" textLength="7" lengthAdjust="spacingAndGlyphs">0</text>
<text transform="translate(37.4 677.47) rotate(-90)" font-family='"Liberation Sans", sans-serif' font-size="14" font-weight="normal" text-anchor="middle" stroke="#000" stroke-width="0.5" textLength="14" lengthAdjust="spacingAndGlyphs">10</text>
<text transform="translate(37.4 652.53) rotate(-90)" font-family='"Liberation Sans", sans-serif' font-size="14" font-weight="normal" text-anchor="middle" stroke="#000" stroke-width="0.5" textLength="14" lengthAdjust="spacingAndGlyphs">20</text>
<text transform="translate(37.4 627.6) rotate(-90)" font-family='"Liberation Sans", sans-serif' font-size="14" font-weight="normal" text-anchor="middle" stroke="#000" stroke-width="0.5" textLength="14" lengthAdjust="spacingAndGlyphs">30</text>
<text transform="translate(37.4 602.67) rotate(-90)" font-family='"Liberation Sans", sans-serif' font-size="14" font-weight="normal" text-anchor="middle" stroke="#000" stroke-width="0.5" textLength="14" lengthAdjust="spacingAndGlyphs">40</text>
<text transform="translate(37.4 577.73) rotate(-90)" font-family='"Liberation Sans", sans-serif' font-size="14" font-weight="normal" text-anchor="middle" stroke="#000" stroke-width="0.5" textLength="14" lengthAdjust="spacingAndGlyphs">50</text>
<text transform="translate(37.4 552.8) rotate(-90)" font-family='"Liberation Sans", sans-serif' font-size="14" font-weight="normal" text-anchor="middle" stroke="#000" stroke-width="0.5" textLength="14" lengthAdjust="spacingAndGlyphs">60</text>
<text transform="translate(22.5 629.3) rotate(-90)" font-family='"Liberation Sans", sans-serif' font-size="13.5" font-weight="normal" text-anchor="middle" stroke="#000" stroke-width="0.5" textLength="42.6" lengthAdjust="spacingAndGlyphs">Counts</text>
<text x="51.6" y="723.3" font-family='"Liberation Sans", sans-serif' font-size="14" font-weight="normal" text-anchor="end" textLength="12.4" lengthAdjust="spacingAndGlyphs" stroke="#000" stroke-width="0.5">10</text>
<text x="52.6" y="716.3" font-family='"Liberation Sans", sans-serif' font-size="13.5" font-weight="normal" text-anchor="start" textLength="7" lengthAdjust="spacingAndGlyphs" stroke="#000" stroke-width="0.45">0</text>
<text x="99.75" y="723.3" font-family='"Liberation Sans", sans-serif' font-size="14" font-weight="normal" text-anchor="end" textLength="12.4" lengthAdjust="spacingAndGlyphs" stroke="#000" stroke-width="0.5">10</text>
<text x="100.75" y="716.3" font-family='"Liberation Sans", sans-serif' font-size="13.5" font-weight="normal" text-anchor="start" textLength="7" lengthAdjust="spacingAndGlyphs" stroke="#000" stroke-width="0.45">1</text>
<text x="147.91" y="723.3" font-family='"Liberation Sans", sans-serif' font-size="14" font-weight="normal" text-anchor="end" textLength="12.4" lengthAdjust="spacingAndGlyphs" stroke="#000" stroke-width="0.5">10</text>
<text x="148.91" y="716.3" font-family='"Liberation Sans", sans-serif' font-size="13.5" font-weight="normal" text-anchor="start" textLength="7" lengthAdjust="spacingAndGlyphs" stroke="#000" stroke-width="0.45">2</text>
<text x="196.06" y="723.3" font-family='"Liberation Sans", sans-serif' font-size="14" font-weight="normal" text-anchor="end" textLength="12.4" lengthAdjust="spacingAndGlyphs" stroke="#000" stroke-width="0.5">10</text>
<text x="197.06" y="716.3" font-family='"Liberation Sans", sans-serif' font-size="13.5" font-weight="normal" text-anchor="start" textLength="7" lengthAdjust="spacingAndGlyphs" stroke="#000" stroke-width="0.45">3</text>
<text x="244.22" y="723.3" font-family='"Liberation Sans", sans-serif' font-size="14" font-weight="normal" text-anchor="end" textLength="12.4" lengthAdjust="spacingAndGlyphs" stroke="#000" stroke-width="0.5">10</text>
<text x="245.22" y="716.3" font-family='"Liberation Sans", sans-serif' font-size="13.5" font-weight="normal" text-anchor="start" textLength="7" lengthAdjust="spacingAndGlyphs" stroke="#000" stroke-width="0.45">4</text>
<path d="M58 562.17H81" stroke="#000" stroke-width="1.3"/>
<path d="M58 575.67H81" stroke="#000" stroke-width="1.3" stroke-dasharray="4.8 4"/>
<text x="89.5" y="565.45" font-family='"Liberation Serif", serif' font-size="14.5" font-weight="normal" text-anchor="start" textLength="29.2" lengthAdjust="spacing" stroke="#000" stroke-width="0.25">With</text>
<text x="129.6" y="565.31" font-family='"Liberation Serif", serif' font-size="14.5" font-weight="normal" text-anchor="start" textLength="26.4" lengthAdjust="spacing" stroke="#000" stroke-width="0.25">CsA</text>
<text x="89.5" y="583.71" font-family='"Liberation Serif", serif' font-size="14.5" font-weight="normal" text-anchor="start" textLength="50" lengthAdjust="spacing" stroke="#000" stroke-width="0.25">Without</text>
<text x="151.6" y="583.54" font-family='"Liberation Serif", serif' font-size="14.5" font-weight="normal" text-anchor="start" textLength="26.3" lengthAdjust="spacing" stroke="#000" stroke-width="0.25">CsA</text>
<text x="111.4" y="612.27" font-family='"Liberation Serif", serif' font-size="14.5" font-weight="normal" text-anchor="start" textLength="85.5" lengthAdjust="spacing" stroke="#000" stroke-width="0.25">Ratio††=1.05</text>
<rect x="95.5" y="637.85" width="17.3" height="8.2" fill="#000"/>
<text x="119.2" y="645.79" font-family='"Liberation Serif", serif' font-size="14.5" font-weight="normal" text-anchor="start" textLength="56.8" lengthAdjust="spacing" stroke="#000" stroke-width="0.25">Control*</text>
<text x="141.5" y="692.3" font-family='"Liberation Serif", serif' font-size="20.5" font-weight="bold" text-anchor="start" stroke="#000" stroke-width="0.25">C</text>
<text x="64.7" y="740.83" font-family='"Liberation Serif", serif' font-size="16" font-weight="normal" text-anchor="start" textLength="90.1" lengthAdjust="spacing" stroke="#000" stroke-width="0.25">Calcein-AM</text>
<text x="171.7" y="740.53" font-family='"Liberation Serif", serif' font-size="16" font-weight="normal" text-anchor="start" textLength="46.5" lengthAdjust="spacing" stroke="#000" stroke-width="0.25">uptake</text>
<path d="M48.8 702L49.81 702L49.81 688.66L50.81 688.66L50.81 686.44L51.82 686.44L51.82 684.04L52.83 684.04L52.83 681.73L53.84 681.73L53.84 678.92L54.84 678.92L54.84 676.43L55.85 676.43L55.85 672.28L56.86 672.28L56.86 668.25L57.86 668.25L57.86 664.64L58.87 664.64L58.87 659.81L59.88 659.81L59.88 655.71L60.88 655.71L60.88 650.87L61.89 650.87L61.89 647.07L62.9 647.07L62.9 643.35L63.91 643.35L63.91 639.28L64.91 639.28L64.91 633.11L65.92 633.11L65.92 628.07L66.93 628.07L66.93 622.92L67.93 622.92L67.93 616.93L68.94 616.93L68.94 612.02L69.95 612.02L69.95 606.09L70.96 606.09L70.96 601.28L71.96 601.28L71.96 596.03L72.97 596.03L72.97 592.56L73.98 592.56L73.98 589.22L74.98 589.22L74.98 592.56L75.99 592.56L75.99 595.14L77 595.14L77 598.62L78 598.62L78 600.53L79.01 600.53L79.01 603.43L80.02 603.43L80.02 604.95L81.03 604.95L81.03 605.98L82.03 605.98L82.03 606.85L83.04 606.85L83.04 613.69L84.05 613.69L84.05 616.93L85.05 616.93L85.05 628.59L86.06 628.59L86.06 639.66L87.07 639.66L87.07 646.64L88.08 646.64L88.08 654.66L89.08 654.66L89.08 663.03L90.09 663.03L90.09 671.63L91.1 671.63L91.1 679.51L92.1 679.51L92.1 681.4L93.11 681.4L93.11 683.74L94.12 683.74L94.12 685.65L95.13 685.65L95.13 687.57L96.13 687.57L96.13 689.31L97.14 689.31L97.14 691.2L98.15 691.2L98.15 692.63L99.15 692.63L99.15 694.22L100.16 694.22L100.16 695.78L101.17 695.78L101.17 696.96L102.17 696.96L102.17 697.89L103.18 697.89L103.18 698.76L104.19 698.76L104.19 699.54L105.2 699.54L105.2 700.36L106.2 700.36L106.2 701.18L107.21 701.18L107.21 702L107.21 702L48.8 702Z" fill="#000" stroke="#000" stroke-width="0.6"/>
<path d="M195.82 702L197.46 702L197.46 700.89L199.09 700.89L199.09 699.78L200.73 699.78L200.73 698.64L202.37 698.64L202.37 697.77L204 697.77L204 694.96L205.64 694.96L205.64 690.08L207.27 690.08L207.27 684.11L208.91 684.11L208.91 676.68L210.54 676.68L210.54 672.07L212.18 672.07L212.18 663.09L213.81 663.09L213.81 651.23L215.45 651.23L215.45 631.71L217.08 631.71L217.08 624.27L218.72 624.27L218.72 616L220.35 616L220.35 606.67L221.99 606.67L221.99 599.08L223.63 599.08L223.63 592.94L225.26 592.94L225.26 587L226.9 587L226.9 581.35L228.53 581.35L228.53 599.95L230.17 599.95L230.17 611.34L231.8 611.34L231.8 626.81L233.44 626.81L233.44 643.39L235.07 643.39L235.07 654.5L236.71 654.5L236.71 673.79L238.34 673.79L238.34 686.63L239.98 686.63L239.98 694.32L241.61 694.32L241.61 698.71L243.25 698.71L243.25 702" fill="none" stroke="#000" stroke-width="1.3" stroke-linejoin="miter"/>
<path d="M196.82 702L198.48 702L198.48 700.88L200.13 700.88L200.13 699.76L201.79 699.76L201.79 698.89L203.44 698.89L203.44 697.42L205.1 697.42L205.1 694.71L206.75 694.71L206.75 688.92L208.41 688.92L208.41 684.62L210.06 684.62L210.06 676.31L211.72 676.31L211.72 671.35L213.37 671.35L213.37 662.07L215.03 662.07L215.03 649.92L216.68 649.92L216.68 632.2L218.34 632.2L218.34 622.65L219.99 622.65L219.99 610.89L221.64 610.89L221.64 606.81L223.3 606.81L223.3 599.19L224.95 599.19L224.95 592.46L226.61 592.46L226.61 586.37L228.26 586.37L228.26 610.31L229.92 610.31L229.92 623.68L231.57 623.68L231.57 631.38L233.23 631.38L233.23 652.93L234.88 652.93L234.88 669.44L236.54 669.44L236.54 679.11L238.19 679.11L238.19 693.3L239.85 693.3L239.85 698.44L241.5 698.44L241.5 702" fill="none" stroke="#000" stroke-width="1.5" stroke-dasharray="2.3 2.2"/>
</g>
<g transform="translate(403.85 626.35) skewY(0.3) translate(-403.85 -626.35)">
<rect x="307.5" y="551.9" width="192.7" height="148.9" fill="none" stroke="#000" stroke-width="1.4"/>
<path d="M300.2 700.8H307.5M303.3 697.25H307.5M303.3 693.71H307.5M303.3 690.16H307.5M303.3 686.62H307.5M303.3 683.07H307.5M303.3 679.53H307.5M300.2 675.98H307.5M303.3 672.44H307.5M303.3 668.89H307.5M303.3 665.35H307.5M303.3 661.8H307.5M303.3 658.26H307.5M303.3 654.71H307.5M300.2 651.17H307.5M303.3 647.62H307.5M303.3 644.08H307.5M303.3 640.53H307.5M303.3 636.99H307.5M303.3 633.44H307.5M303.3 629.9H307.5M300.2 626.35H307.5M303.3 622.8H307.5M303.3 619.26H307.5M303.3 615.71H307.5M303.3 612.17H307.5M303.3 608.62H307.5M303.3 605.08H307.5M300.2 601.53H307.5M303.3 597.99H307.5M303.3 594.44H307.5M303.3 590.9H307.5M303.3 587.35H307.5M303.3 583.81H307.5M303.3 580.26H307.5M300.2 576.72H307.5M303.3 573.17H307.5M303.3 569.63H307.5M303.3 566.08H307.5M303.3 562.54H307.5M303.3 558.99H307.5M303.3 555.45H307.5M300.2 551.9H307.5M307.5 700.8V707.1M322 700.8V703.9M330.49 700.8V703.9M336.5 700.8V703.9M341.17 700.8V703.9M344.99 700.8V703.9M348.21 700.8V703.9M351.01 700.8V703.9M353.47 700.8V703.9M355.68 700.8V707.1M370.18 700.8V703.9M378.66 700.8V703.9M384.68 700.8V703.9M389.35 700.8V703.9M393.16 700.8V703.9M396.39 700.8V703.9M399.18 700.8V703.9M401.65 700.8V703.9M403.85 700.8V707.1M418.35 700.8V703.9M426.84 700.8V703.9M432.85 700.8V703.9M437.52 700.8V703.9M441.34 700.8V703.9M444.56 700.8V703.9M447.36 700.8V703.9M449.82 700.8V703.9M452.02 700.8V707.1M466.53 700.8V703.9M475.01 700.8V703.9M481.03 700.8V703.9M485.7 700.8V703.9M489.51 700.8V703.9M492.74 700.8V703.9M495.53 700.8V703.9M498 700.8V703.9M500.2 700.8V707.1" stroke="#000" stroke-width="1.2" fill="none"/>
<text transform="translate(296 699.6) rotate(-90)" font-family='"Liberation Sans", sans-serif' font-size="14" font-weight="normal" text-anchor="middle" stroke="#000" stroke-width="0.5" textLength="7" lengthAdjust="spacingAndGlyphs">0</text>
<text transform="translate(296 676.38) rotate(-90)" font-family='"Liberation Sans", sans-serif' font-size="14" font-weight="normal" text-anchor="middle" stroke="#000" stroke-width="0.5" textLength="14" lengthAdjust="spacingAndGlyphs">10</text>
<text transform="translate(296 651.57) rotate(-90)" font-family='"Liberation Sans", sans-serif' font-size="14" font-weight="normal" text-anchor="middle" stroke="#000" stroke-width="0.5" textLength="14" lengthAdjust="spacingAndGlyphs">20</text>
<text transform="translate(296 626.75) rotate(-90)" font-family='"Liberation Sans", sans-serif' font-size="14" font-weight="normal" text-anchor="middle" stroke="#000" stroke-width="0.5" textLength="14" lengthAdjust="spacingAndGlyphs">30</text>
<text transform="translate(296 601.93) rotate(-90)" font-family='"Liberation Sans", sans-serif' font-size="14" font-weight="normal" text-anchor="middle" stroke="#000" stroke-width="0.5" textLength="14" lengthAdjust="spacingAndGlyphs">40</text>
<text transform="translate(296 577.12) rotate(-90)" font-family='"Liberation Sans", sans-serif' font-size="14" font-weight="normal" text-anchor="middle" stroke="#000" stroke-width="0.5" textLength="14" lengthAdjust="spacingAndGlyphs">50</text>
<text transform="translate(296 552.3) rotate(-90)" font-family='"Liberation Sans", sans-serif' font-size="14" font-weight="normal" text-anchor="middle" stroke="#000" stroke-width="0.5" textLength="14" lengthAdjust="spacingAndGlyphs">60</text>
<text transform="translate(281.3 628.7) rotate(-90)" font-family='"Liberation Sans", sans-serif' font-size="13.5" font-weight="normal" text-anchor="middle" stroke="#000" stroke-width="0.5" textLength="42.6" lengthAdjust="spacingAndGlyphs">Counts</text>
<text x="310.3" y="722.1" font-family='"Liberation Sans", sans-serif' font-size="14" font-weight="normal" text-anchor="end" textLength="12.4" lengthAdjust="spacingAndGlyphs" stroke="#000" stroke-width="0.5">10</text>
<text x="311.3" y="715.1" font-family='"Liberation Sans", sans-serif' font-size="13.5" font-weight="normal" text-anchor="start" textLength="7" lengthAdjust="spacingAndGlyphs" stroke="#000" stroke-width="0.45">0</text>
<text x="357.96" y="722.1" font-family='"Liberation Sans", sans-serif' font-size="14" font-weight="normal" text-anchor="end" textLength="12.4" lengthAdjust="spacingAndGlyphs" stroke="#000" stroke-width="0.5">10</text>
<text x="358.96" y="715.1" font-family='"Liberation Sans", sans-serif' font-size="13.5" font-weight="normal" text-anchor="start" textLength="7" lengthAdjust="spacingAndGlyphs" stroke="#000" stroke-width="0.45">1</text>
<text x="405.61" y="722.1" font-family='"Liberation Sans", sans-serif' font-size="14" font-weight="normal" text-anchor="end" textLength="12.4" lengthAdjust="spacingAndGlyphs" stroke="#000" stroke-width="0.5">10</text>
<text x="406.61" y="715.1" font-family='"Liberation Sans", sans-serif' font-size="13.5" font-weight="normal" text-anchor="start" textLength="7" lengthAdjust="spacingAndGlyphs" stroke="#000" stroke-width="0.45">2</text>
<text x="453.26" y="722.1" font-family='"Liberation Sans", sans-serif' font-size="14" font-weight="normal" text-anchor="end" textLength="12.4" lengthAdjust="spacingAndGlyphs" stroke="#000" stroke-width="0.5">10</text>
<text x="454.26" y="715.1" font-family='"Liberation Sans", sans-serif' font-size="13.5" font-weight="normal" text-anchor="start" textLength="7" lengthAdjust="spacingAndGlyphs" stroke="#000" stroke-width="0.45">3</text>
<text x="500.92" y="722.1" font-family='"Liberation Sans", sans-serif' font-size="14" font-weight="normal" text-anchor="end" textLength="12.4" lengthAdjust="spacingAndGlyphs" stroke="#000" stroke-width="0.5">10</text>
<text x="501.92" y="715.1" font-family='"Liberation Sans", sans-serif' font-size="13.5" font-weight="normal" text-anchor="start" textLength="7" lengthAdjust="spacingAndGlyphs" stroke="#000" stroke-width="0.45">4</text>
<path d="M312 562.22H334.6" stroke="#000" stroke-width="1.3"/>
<path d="M312 575.02H334.6" stroke="#000" stroke-width="1.3" stroke-dasharray="4.5 3.7"/>
<text x="338.75" y="565.76" font-family='"Liberation Serif", serif' font-size="14.5" font-weight="normal" text-anchor="start" textLength="30" lengthAdjust="spacing" stroke="#000" stroke-width="0.25">With</text>
<text x="383.75" y="565.42" font-family='"Liberation Serif", serif' font-size="14.5" font-weight="normal" text-anchor="start" textLength="71.65" lengthAdjust="spacing" stroke="#000" stroke-width="0.25">probenecid</text>
<text x="337.5" y="583.71" font-family='"Liberation Serif", serif' font-size="14.5" font-weight="normal" text-anchor="start" textLength="51.5" lengthAdjust="spacing" stroke="#000" stroke-width="0.25">Without</text>
<text x="405" y="583.31" font-family='"Liberation Serif", serif' font-size="14.5" font-weight="normal" text-anchor="start" textLength="70.7" lengthAdjust="spacing" stroke="#000" stroke-width="0.25">probenecid</text>
<text x="370" y="615.97" font-family='"Liberation Serif", serif' font-size="14.5" font-weight="normal" text-anchor="start" textLength="77.3" lengthAdjust="spacing" stroke="#000" stroke-width="0.25">Ratio††=1.7</text>
<rect x="348.75" y="642.74" width="17.5" height="9.5" fill="#000"/>
<text x="373.75" y="651.01" font-family='"Liberation Serif", serif' font-size="14.5" font-weight="normal" text-anchor="start" textLength="57.25" lengthAdjust="spacing" stroke="#000" stroke-width="0.25">Control*</text>
<text x="397.5" y="692.5" font-family='"Liberation Serif", serif' font-size="20.5" font-weight="bold" text-anchor="start" stroke="#000" stroke-width="0.25">D</text>
<text x="361.3" y="739.68" font-family='"Liberation Serif", serif' font-size="16" font-weight="normal" text-anchor="start" textLength="52.9" lengthAdjust="spacing" stroke="#000" stroke-width="0.25">calcein</text>
<text x="431.1" y="739.34" font-family='"Liberation Serif", serif' font-size="16" font-weight="normal" text-anchor="start" textLength="43.2" lengthAdjust="spacing" stroke="#000" stroke-width="0.25">efflux</text>
<path d="M307.5 700.8L308.51 700.8L308.51 680.69L309.52 680.69L309.52 680.75L310.53 680.75L310.53 679.66L311.54 679.66L311.54 677.65L312.55 677.65L312.55 675.6L313.56 675.6L313.56 673.36L314.57 673.36L314.57 669.24L315.58 669.24L315.58 664.84L316.59 664.84L316.59 659.49L317.6 659.49L317.6 655.04L318.61 655.04L318.61 650.33L319.62 650.33L319.62 645.34L320.63 645.34L320.63 641.41L321.64 641.41L321.64 635.19L322.65 635.19L322.65 628.82L323.66 628.82L323.66 621.17L324.67 621.17L324.67 614.63L325.68 614.63L325.68 609.52L326.69 609.52L326.69 603.84L327.7 603.84L327.7 598.86L328.71 598.86L328.71 593.11L329.72 593.11L329.72 587.58L330.73 587.58L330.73 589.27L331.74 589.27L331.74 590.79L332.75 590.79L332.75 592.71L333.76 592.71L333.76 594.88L334.77 594.88L334.77 597.5L335.77 597.5L335.77 601.04L336.78 601.04L336.78 603.07L337.79 603.07L337.79 605.2L338.8 605.2L338.8 614.53L339.81 614.53L339.81 622.13L340.82 622.13L340.82 628.51L341.83 628.51L341.83 635.6L342.84 635.6L342.84 644.33L343.85 644.33L343.85 651.05L344.86 651.05L344.86 658.86L345.87 658.86L345.87 666.01L346.88 666.01L346.88 673.22L347.89 673.22L347.89 678.04L348.9 678.04L348.9 680.87L349.91 680.87L349.91 682.99L350.92 682.99L350.92 684.83L351.93 684.83L351.93 687.14L352.94 687.14L352.94 688.38L353.95 688.38L353.95 689.8L354.96 689.8L354.96 691.3L355.97 691.3L355.97 692.4L356.98 692.4L356.98 693.72L357.99 693.72L357.99 694.82L359 694.82L359 695.86L360.01 695.86L360.01 696.76L361.02 696.76L361.02 697.59L362.03 697.59L362.03 698.36L363.04 698.36L363.04 699.17L364.05 699.17L364.05 699.99L365.06 699.99L365.06 700.8L365.06 700.8L307.5 700.8Z" fill="#000" stroke="#000" stroke-width="0.6"/>
<path d="M443.94 700.8L445.56 700.8L445.56 698.41L447.17 698.41L447.17 696.16L448.78 696.16L448.78 694.01L450.4 694.01L450.4 690.44L452.01 690.44L452.01 683.84L453.62 683.84L453.62 677.57L455.24 677.57L455.24 666.21L456.85 666.21L456.85 660.87L458.47 660.87L458.47 653.47L460.08 653.47L460.08 646.47L461.69 646.47L461.69 641.95L463.31 641.95L463.31 635.99L464.92 635.99L464.92 632.62L466.53 632.62L466.53 629.68L468.15 629.68L468.15 626.03L469.76 626.03L469.76 621.52L471.38 621.52L471.38 615.3L472.99 615.3L472.99 608.29L474.6 608.29L474.6 599.03L476.22 599.03L476.22 597.11L477.83 597.11L477.83 597.73L479.45 597.73L479.45 606.72L481.06 606.72L481.06 609.64L482.67 609.64L482.67 613.71L484.29 613.71L484.29 625.31L485.9 625.31L485.9 638.63L487.51 638.63L487.51 653.12L489.13 653.12L489.13 666.56L490.74 666.56L490.74 675.57L492.36 675.57L492.36 683.81L493.97 683.81L493.97 688.76L495.58 688.76L495.58 695.14L497.2 695.14L497.2 700.8" fill="none" stroke="#000" stroke-width="1.7" stroke-dasharray="2.1 2.3"/>
<path d="M458.96 700.8L460.59 700.8L460.59 696.56L462.23 696.56L462.23 692.67L463.87 692.67L463.87 687.12L465.51 687.12L465.51 670.06L467.15 670.06L467.15 665.68L468.78 665.68L468.78 656.59L470.42 656.59L470.42 650.96L472.06 650.96L472.06 637.86L473.7 637.86L473.7 633.46L475.33 633.46L475.33 623.11L476.97 623.11L476.97 610.89L478.61 610.89L478.61 595.15L480.25 595.15L480.25 582.88L481.88 582.88L481.88 583.56L483.52 583.56L483.52 591.46L485.16 591.46L485.16 597.82L486.8 597.82L486.8 599.86L488.44 599.86L488.44 641.34L490.07 641.34L490.07 654.88L491.71 654.88L491.71 661.36L493.35 661.36L493.35 676.98L494.99 676.98L494.99 687.79L496.62 687.79L496.62 693.84L498.26 693.84L498.26 697.9L499.9 697.9L499.9 700.8" fill="none" stroke="#000" stroke-width="1.3" stroke-linejoin="miter"/>
</g>
<g transform="translate(144.7 863.75) skewY(0.5) translate(-144.7 -863.75)">
<rect x="55.1" y="781.6" width="179.2" height="164.3" fill="none" stroke="#000" stroke-width="1.4"/>
<path d="M47.8 945.9H55.1M50.9 940.42H55.1M50.9 934.95H55.1M50.9 929.47H55.1M50.9 923.99H55.1M47.8 918.52H55.1M50.9 913.04H55.1M50.9 907.56H55.1M50.9 902.09H55.1M50.9 896.61H55.1M47.8 891.13H55.1M50.9 885.66H55.1M50.9 880.18H55.1M50.9 874.7H55.1M50.9 869.23H55.1M47.8 863.75H55.1M50.9 858.27H55.1M50.9 852.8H55.1M50.9 847.32H55.1M50.9 841.84H55.1M47.8 836.37H55.1M50.9 830.89H55.1M50.9 825.41H55.1M50.9 819.94H55.1M50.9 814.46H55.1M47.8 808.98H55.1M50.9 803.51H55.1M50.9 798.03H55.1M50.9 792.55H55.1M50.9 787.08H55.1M47.8 781.6H55.1M55.1 945.9V952.2M68.59 945.9V949M76.48 945.9V949M82.07 945.9V949M86.41 945.9V949M89.96 945.9V949M92.96 945.9V949M95.56 945.9V949M97.85 945.9V949M99.9 945.9V952.2M113.39 945.9V949M121.28 945.9V949M126.87 945.9V949M131.21 945.9V949M134.76 945.9V949M137.76 945.9V949M140.36 945.9V949M142.65 945.9V949M144.7 945.9V952.2M158.19 945.9V949M166.08 945.9V949M171.67 945.9V949M176.01 945.9V949M179.56 945.9V949M182.56 945.9V949M185.16 945.9V949M187.45 945.9V949M189.5 945.9V952.2M202.99 945.9V949M210.88 945.9V949M216.47 945.9V949M220.81 945.9V949M224.36 945.9V949M227.36 945.9V949M229.96 945.9V949M232.25 945.9V949M234.3 945.9V952.2" stroke="#000" stroke-width="1.2" fill="none"/>
<text transform="translate(43 944.7) rotate(-90)" font-family='"Liberation Sans", sans-serif' font-size="14" font-weight="normal" text-anchor="middle" stroke="#000" stroke-width="0.5" textLength="7" lengthAdjust="spacingAndGlyphs">0</text>
<text transform="translate(43 918.92) rotate(-90)" font-family='"Liberation Sans", sans-serif' font-size="14" font-weight="normal" text-anchor="middle" stroke="#000" stroke-width="0.5" textLength="14" lengthAdjust="spacingAndGlyphs">10</text>
<text transform="translate(43 891.53) rotate(-90)" font-family='"Liberation Sans", sans-serif' font-size="14" font-weight="normal" text-anchor="middle" stroke="#000" stroke-width="0.5" textLength="14" lengthAdjust="spacingAndGlyphs">20</text>
<text transform="translate(43 864.15) rotate(-90)" font-family='"Liberation Sans", sans-serif' font-size="14" font-weight="normal" text-anchor="middle" stroke="#000" stroke-width="0.5" textLength="14" lengthAdjust="spacingAndGlyphs">30</text>
<text transform="translate(43 836.77) rotate(-90)" font-family='"Liberation Sans", sans-serif' font-size="14" font-weight="normal" text-anchor="middle" stroke="#000" stroke-width="0.5" textLength="14" lengthAdjust="spacingAndGlyphs">40</text>
<text transform="translate(43 809.38) rotate(-90)" font-family='"Liberation Sans", sans-serif' font-size="14" font-weight="normal" text-anchor="middle" stroke="#000" stroke-width="0.5" textLength="14" lengthAdjust="spacingAndGlyphs">50</text>
<text transform="translate(43 782) rotate(-90)" font-family='"Liberation Sans", sans-serif' font-size="14" font-weight="normal" text-anchor="middle" stroke="#000" stroke-width="0.5" textLength="14" lengthAdjust="spacingAndGlyphs">60</text>
<text transform="translate(28.7 867) rotate(-90)" font-family='"Liberation Sans", sans-serif' font-size="13.5" font-weight="normal" text-anchor="middle" stroke="#000" stroke-width="0.5" textLength="42.6" lengthAdjust="spacingAndGlyphs">Counts</text>
<text x="57.9" y="967.2" font-family='"Liberation Sans", sans-serif' font-size="14" font-weight="normal" text-anchor="end" textLength="12.4" lengthAdjust="spacingAndGlyphs" stroke="#000" stroke-width="0.5">10</text>
<text x="58.9" y="960.2" font-family='"Liberation Sans", sans-serif' font-size="13.5" font-weight="normal" text-anchor="start" textLength="7" lengthAdjust="spacingAndGlyphs" stroke="#000" stroke-width="0.45">0</text>
<text x="102.18" y="967.2" font-family='"Liberation Sans", sans-serif' font-size="14" font-weight="normal" text-anchor="end" textLength="12.4" lengthAdjust="spacingAndGlyphs" stroke="#000" stroke-width="0.5">10</text>
<text x="103.18" y="960.2" font-family='"Liberation Sans", sans-serif' font-size="13.5" font-weight="normal" text-anchor="start" textLength="7" lengthAdjust="spacingAndGlyphs" stroke="#000" stroke-width="0.45">1</text>
<text x="146.46" y="967.2" font-family='"Liberation Sans", sans-serif' font-size="14" font-weight="normal" text-anchor="end" textLength="12.4" lengthAdjust="spacingAndGlyphs" stroke="#000" stroke-width="0.5">10</text>
<text x="147.46" y="960.2" font-family='"Liberation Sans", sans-serif' font-size="13.5" font-weight="normal" text-anchor="start" textLength="7" lengthAdjust="spacingAndGlyphs" stroke="#000" stroke-width="0.45">2</text>
<text x="190.74" y="967.2" font-family='"Liberation Sans", sans-serif' font-size="14" font-weight="normal" text-anchor="end" textLength="12.4" lengthAdjust="spacingAndGlyphs" stroke="#000" stroke-width="0.5">10</text>
<text x="191.74" y="960.2" font-family='"Liberation Sans", sans-serif' font-size="13.5" font-weight="normal" text-anchor="start" textLength="7" lengthAdjust="spacingAndGlyphs" stroke="#000" stroke-width="0.45">3</text>
<text x="235.02" y="967.2" font-family='"Liberation Sans", sans-serif' font-size="14" font-weight="normal" text-anchor="end" textLength="12.4" lengthAdjust="spacingAndGlyphs" stroke="#000" stroke-width="0.5">10</text>
<text x="236.02" y="960.2" font-family='"Liberation Sans", sans-serif' font-size="13.5" font-weight="normal" text-anchor="start" textLength="7" lengthAdjust="spacingAndGlyphs" stroke="#000" stroke-width="0.45">4</text>
<rect x="0" y="838" width="20.7" height="58" fill="#fff"/>
<text x="63.4" y="796.11" font-family='"Liberation Serif", serif' font-size="14.5" font-weight="normal" text-anchor="start" textLength="114.3" lengthAdjust="spacing" stroke="#000" stroke-width="0.25">UIC2/control=1†</text>
<text x="217.3" y="936.31" font-family='"Liberation Serif", serif' font-size="21" font-weight="bold" text-anchor="start" stroke="#000" stroke-width="0.25">c</text>
<text x="77.4" y="986.16" font-family='"Liberation Serif", serif' font-size="16" font-weight="normal" text-anchor="start" textLength="28.7" lengthAdjust="spacing" stroke="#000" stroke-width="0.25">Pgp</text>
<text x="123" y="985.55" font-family='"Liberation Serif", serif' font-size="16" font-weight="normal" text-anchor="start" textLength="78.3" lengthAdjust="spacing" stroke="#000" stroke-width="0.25">expression</text>
<path d="M83.46 945.9L85.07 945.9L85.07 941.71L86.68 941.71L86.68 937.58L88.29 937.58L88.29 932.87L89.9 932.87L89.9 928.24L91.51 928.24L91.51 922.44L93.11 922.44L93.11 917.76L94.72 917.76L94.72 910.93L96.33 910.93L96.33 900.22L97.94 900.22L97.94 885.84L99.55 885.84L99.55 879.67L101.16 879.67L101.16 870.14L102.77 870.14L102.77 860.9L104.38 860.9L104.38 850.53L105.98 850.53L105.98 844.93L107.59 844.93L107.59 835.82L109.2 835.82L109.2 843.73L110.81 843.73L110.81 851.8L112.42 851.8L112.42 859.27L114.03 859.27L114.03 866.97L115.64 866.97L115.64 871.25L117.25 871.25L117.25 885.46L118.86 885.46L118.86 894.09L120.46 894.09L120.46 904.13L122.07 904.13L122.07 912.09L123.68 912.09L123.68 918.4L125.29 918.4L125.29 925.8L126.9 925.8L126.9 929.19L128.51 929.19L128.51 931.86L130.12 931.86L130.12 934.44L131.73 934.44L131.73 936.06L133.34 936.06L133.34 938.28L134.94 938.28L134.94 939.19L136.55 939.19L136.55 940.15L138.16 940.15L138.16 941.28L139.77 941.28L139.77 941.79L141.38 941.79L141.38 942.98L142.99 942.98L142.99 943.84L144.6 943.84L144.6 944.87L146.21 944.87L146.21 945.9" fill="none" stroke="#000" stroke-width="1.3" stroke-linejoin="miter"/>
<path d="M78.44 945.9L80.13 945.9L80.13 940.08L81.82 940.08L81.82 934.2L83.5 934.2L83.5 928.41L85.19 928.41L85.19 924.55L86.88 924.55L86.88 919.61L88.56 919.61L88.56 917.9L90.25 917.9L90.25 915.68L91.94 915.68L91.94 912.4L93.63 912.4L93.63 901.79L95.31 901.79L95.31 890.76L97 890.76L97 879.79L98.69 879.79L98.69 870.21L100.37 870.21L100.37 860.79L102.06 860.79L102.06 852.43L103.75 852.43L103.75 841.48L105.44 841.48L105.44 836.61L107.12 836.61L107.12 828.16L108.81 828.16L108.81 838.7" fill="none" stroke="#000" stroke-width="1.6" stroke-dasharray="2.2 2"/>
</g>
<g transform="translate(409.45 859.2) skewY(0.35) translate(-409.45 -859.2)">
<rect x="310.3" y="774" width="198.3" height="170.4" fill="none" stroke="#000" stroke-width="1.4"/>
<path d="M303 944.4H310.3M306.1 938.72H310.3M306.1 933.04H310.3M306.1 927.36H310.3M306.1 921.68H310.3M303 916H310.3M306.1 910.32H310.3M306.1 904.64H310.3M306.1 898.96H310.3M306.1 893.28H310.3M303 887.6H310.3M306.1 881.92H310.3M306.1 876.24H310.3M306.1 870.56H310.3M306.1 864.88H310.3M303 859.2H310.3M306.1 853.52H310.3M306.1 847.84H310.3M306.1 842.16H310.3M306.1 836.48H310.3M303 830.8H310.3M306.1 825.12H310.3M306.1 819.44H310.3M306.1 813.76H310.3M306.1 808.08H310.3M303 802.4H310.3M306.1 796.72H310.3M306.1 791.04H310.3M306.1 785.36H310.3M306.1 779.68H310.3M303 774H310.3M310.3 944.4V950.7M325.22 944.4V947.5M333.95 944.4V947.5M340.15 944.4V947.5M344.95 944.4V947.5M348.88 944.4V947.5M352.2 944.4V947.5M355.07 944.4V947.5M357.61 944.4V947.5M359.88 944.4V950.7M374.8 944.4V947.5M383.53 944.4V947.5M389.72 944.4V947.5M394.53 944.4V947.5M398.45 944.4V947.5M401.77 944.4V947.5M404.65 944.4V947.5M407.18 944.4V947.5M409.45 944.4V950.7M424.37 944.4V947.5M433.1 944.4V947.5M439.3 944.4V947.5M444.1 944.4V947.5M448.03 944.4V947.5M451.35 944.4V947.5M454.22 944.4V947.5M456.76 944.4V947.5M459.03 944.4V950.7M473.95 944.4V947.5M482.68 944.4V947.5M488.87 944.4V947.5M493.68 944.4V947.5M497.6 944.4V947.5M500.92 944.4V947.5M503.8 944.4V947.5M506.33 944.4V947.5M508.6 944.4V950.7" stroke="#000" stroke-width="1.2" fill="none"/>
<text transform="translate(298.5 943.2) rotate(-90)" font-family='"Liberation Sans", sans-serif' font-size="14" font-weight="normal" text-anchor="middle" stroke="#000" stroke-width="0.5" textLength="7" lengthAdjust="spacingAndGlyphs">0</text>
<text transform="translate(298.5 916.4) rotate(-90)" font-family='"Liberation Sans", sans-serif' font-size="14" font-weight="normal" text-anchor="middle" stroke="#000" stroke-width="0.5" textLength="14" lengthAdjust="spacingAndGlyphs">10</text>
<text transform="translate(298.5 888) rotate(-90)" font-family='"Liberation Sans", sans-serif' font-size="14" font-weight="normal" text-anchor="middle" stroke="#000" stroke-width="0.5" textLength="14" lengthAdjust="spacingAndGlyphs">20</text>
<text transform="translate(298.5 859.6) rotate(-90)" font-family='"Liberation Sans", sans-serif' font-size="14" font-weight="normal" text-anchor="middle" stroke="#000" stroke-width="0.5" textLength="14" lengthAdjust="spacingAndGlyphs">30</text>
<text transform="translate(298.5 831.2) rotate(-90)" font-family='"Liberation Sans", sans-serif' font-size="14" font-weight="normal" text-anchor="middle" stroke="#000" stroke-width="0.5" textLength="14" lengthAdjust="spacingAndGlyphs">40</text>
<text transform="translate(298.5 802.8) rotate(-90)" font-family='"Liberation Sans", sans-serif' font-size="14" font-weight="normal" text-anchor="middle" stroke="#000" stroke-width="0.5" textLength="14" lengthAdjust="spacingAndGlyphs">50</text>
<text transform="translate(298.5 774.4) rotate(-90)" font-family='"Liberation Sans", sans-serif' font-size="14" font-weight="normal" text-anchor="middle" stroke="#000" stroke-width="0.5" textLength="14" lengthAdjust="spacingAndGlyphs">60</text>
<text transform="translate(283.7 861.6) rotate(-90)" font-family='"Liberation Sans", sans-serif' font-size="13.5" font-weight="normal" text-anchor="middle" stroke="#000" stroke-width="0.5" textLength="42.6" lengthAdjust="spacingAndGlyphs">Counts</text>
<text x="313.1" y="965.7" font-family='"Liberation Sans", sans-serif' font-size="14" font-weight="normal" text-anchor="end" textLength="12.4" lengthAdjust="spacingAndGlyphs" stroke="#000" stroke-width="0.5">10</text>
<text x="314.1" y="958.7" font-family='"Liberation Sans", sans-serif' font-size="13.5" font-weight="normal" text-anchor="start" textLength="7" lengthAdjust="spacingAndGlyphs" stroke="#000" stroke-width="0.45">0</text>
<text x="362.16" y="965.7" font-family='"Liberation Sans", sans-serif' font-size="14" font-weight="normal" text-anchor="end" textLength="12.4" lengthAdjust="spacingAndGlyphs" stroke="#000" stroke-width="0.5">10</text>
<text x="363.16" y="958.7" font-family='"Liberation Sans", sans-serif' font-size="13.5" font-weight="normal" text-anchor="start" textLength="7" lengthAdjust="spacingAndGlyphs" stroke="#000" stroke-width="0.45">1</text>
<text x="411.21" y="965.7" font-family='"Liberation Sans", sans-serif' font-size="14" font-weight="normal" text-anchor="end" textLength="12.4" lengthAdjust="spacingAndGlyphs" stroke="#000" stroke-width="0.5">10</text>
<text x="412.21" y="958.7" font-family='"Liberation Sans", sans-serif' font-size="13.5" font-weight="normal" text-anchor="start" textLength="7" lengthAdjust="spacingAndGlyphs" stroke="#000" stroke-width="0.45">2</text>
<text x="460.27" y="965.7" font-family='"Liberation Sans", sans-serif' font-size="14" font-weight="normal" text-anchor="end" textLength="12.4" lengthAdjust="spacingAndGlyphs" stroke="#000" stroke-width="0.5">10</text>
<text x="461.27" y="958.7" font-family='"Liberation Sans", sans-serif' font-size="13.5" font-weight="normal" text-anchor="start" textLength="7" lengthAdjust="spacingAndGlyphs" stroke="#000" stroke-width="0.45">3</text>
<text x="509.32" y="965.7" font-family='"Liberation Sans", sans-serif' font-size="14" font-weight="normal" text-anchor="end" textLength="12.4" lengthAdjust="spacingAndGlyphs" stroke="#000" stroke-width="0.5">10</text>
<text x="510.32" y="958.7" font-family='"Liberation Sans", sans-serif' font-size="13.5" font-weight="normal" text-anchor="start" textLength="7" lengthAdjust="spacingAndGlyphs" stroke="#000" stroke-width="0.45">4</text>
<text x="318.6" y="790.82" font-family='"Liberation Serif", serif' font-size="14.5" font-weight="normal" text-anchor="start" textLength="143.7" lengthAdjust="spacing" stroke="#000" stroke-width="0.25">MRPm6/control=1.5†</text>
<text x="488.6" y="937.58" font-family='"Liberation Serif", serif' font-size="21" font-weight="bold" text-anchor="start" stroke="#000" stroke-width="0.25">d</text>
<text x="348.6" y="986.76" font-family='"Liberation Serif", serif' font-size="16" font-weight="normal" text-anchor="start" textLength="35.2" lengthAdjust="spacing" stroke="#000" stroke-width="0.25">MRP</text>
<text x="400.7" y="986.32" font-family='"Liberation Serif", serif' font-size="16" font-weight="normal" text-anchor="start" textLength="77" lengthAdjust="spacing" stroke="#000" stroke-width="0.25">expression</text>
<path d="M325.36 944.4L326.96 944.4L326.96 941.88L328.56 941.88L328.56 941.88L330.16 941.88L330.16 941.88L331.77 941.88L331.77 941.88L333.37 941.88L333.37 940.58L334.97 940.58L334.97 936.63L336.57 936.63L336.57 932.2L338.17 932.2L338.17 929.05L339.77 929.05L339.77 925.52L341.37 925.52L341.37 922.59L342.97 922.59L342.97 912.18L344.58 912.18L344.58 899.12L346.18 899.12L346.18 887.32L347.78 887.32L347.78 873.83L349.38 873.83L349.38 845.74L350.98 845.74L350.98 833.49L352.58 833.49L352.58 818.82L354.18 818.82L354.18 811.19L355.79 811.19L355.79 807.65L357.39 807.65L357.39 823L358.99 823L358.99 843.9L360.59 843.9L360.59 878.22L362.19 878.22L362.19 903.94L363.79 903.94L363.79 920.17L365.39 920.17L365.39 928.55L366.99 928.55L366.99 935.1L368.6 935.1L368.6 939.27L370.2 939.27L370.2 942.26L371.8 942.26L371.8 944.4" fill="none" stroke="#000" stroke-width="1.3" stroke-linejoin="miter"/>
<path d="M334.15 944.4L335.78 944.4L335.78 942.76L337.41 942.76L337.41 941.37L339.04 941.37L339.04 939.44L340.67 939.44L340.67 937.72L342.3 937.72L342.3 936.15L343.94 936.15L343.94 932.26L345.57 932.26L345.57 928.9L347.2 928.9L347.2 924.35L348.83 924.35L348.83 914.08L350.46 914.08L350.46 905.1L352.09 905.1L352.09 878.86L353.73 878.86L353.73 872.71L355.36 872.71L355.36 839.68L356.99 839.68L356.99 839.11L358.62 839.11L358.62 844.22L360.25 844.22L360.25 849.83L361.88 849.83L361.88 862.3L363.51 862.3L363.51 887.17L365.15 887.17L365.15 893.81L366.78 893.81L366.78 901.93L368.41 901.93L368.41 907.74L370.04 907.74L370.04 913.09L371.67 913.09L371.67 918.68L373.3 918.68L373.3 925.37L374.94 925.37L374.94 930.6L376.57 930.6L376.57 936.46L378.2 936.46L378.2 938.79L379.83 938.79L379.83 940.75L381.46 940.75L381.46 942.43L383.09 942.43L383.09 944.4" fill="none" stroke="#000" stroke-width="1.7" stroke-dasharray="2.1 2.3"/>
</g>
</svg>
</body></html>
